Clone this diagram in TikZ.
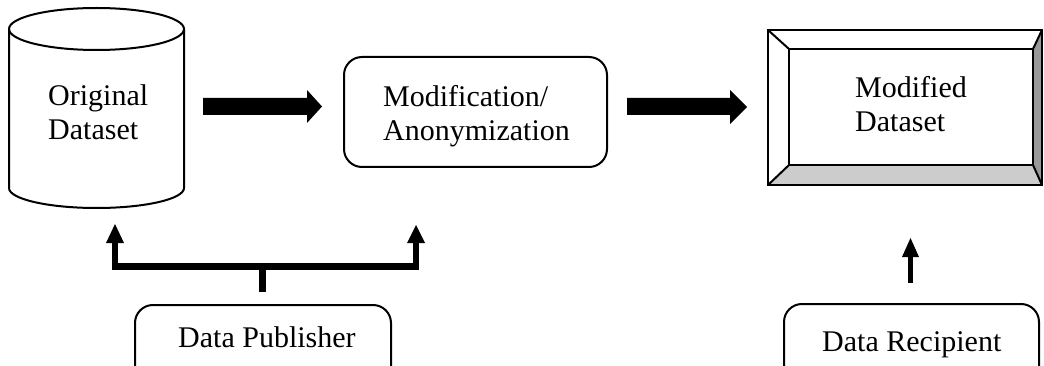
\documentclass[tikz,border=0pt]{standalone}
\usepackage{fontspec}
\setmainfont{Liberation Serif}
\begin{document}
\begin{tikzpicture}[x=1pt,y=-1pt,line join=miter,
  txt/.style={font=\fontsize{30}{34}\selectfont, inner sep=0pt, anchor=base west},
  box/.style={draw, line width=2pt, rounded corners=18pt, inner sep=0pt},
  outl/.style={line width=2pt},
  fat/.style={fill=black},
  bar/.style={line width=6.5pt}]
\useasboundingbox (0,0) rectangle (1044,366);
\clip (0,0) rectangle (1044,366);
% Original Dataset (cylinder)
\draw[outl] (9,29) -- (9,188) arc[start angle=180, end angle=0, x radius=87.5, y radius=20] -- (184,29);
\draw[outl] (96.5,29) ellipse [x radius=87.5, y radius=21];
\node[inner sep=0pt, minimum width=175pt, minimum height=201pt] (orig) at (96.5,107.5) {};
\node[txt] (t1) at (48,106) {Original};
\node[txt] (t2) at (48,140) {Dataset};
% Modification box
\node[box, minimum width=263pt, minimum height=110pt] (mod) at (475.5,112) {};
\node[txt] (t3) at (383,107) {Modification/};
\node[txt] (t4) at (383,141) {Anonymization};
% Modified Dataset bevel box
\fill[white] (768,30) -- (1042,30) -- (1033,49) -- (789,49) -- cycle;
\fill[white] (768,30) -- (789,49) -- (789,165) -- (768,185) -- cycle;
\fill[black!40] (1042,30) -- (1042,185) -- (1033,165) -- (1033,49) -- cycle;
\fill[black!20] (768,185) -- (1042,185) -- (1033,165) -- (789,165) -- cycle;
\draw[outl] (768,30) rectangle (1042,185);
\draw[outl] (789,49) rectangle (1033,165);
\draw[outl] (768,30) -- (789,49) (1042,30) -- (1033,49) (768,185) -- (789,165) (1042,185) -- (1033,165);
\node[inner sep=0pt, minimum width=274pt, minimum height=155pt] (modds) at (905,107.5) {};
\node[txt] (t5) at (855,98) {Modified};
\node[txt] (t6) at (855,132) {Dataset};
% Bottom boxes
\node[box, minimum width=256pt, minimum height=120pt, anchor=north west] (pub) at (134,304) {};
\node[txt] (t7) at (178,347) {Data Publisher};
\node[box, minimum width=255pt, minimum height=120pt, anchor=north west] (rec) at (783,303) {};
\node[txt] (t8) at (822,351) {Data Recipient};
% Fat arrows
\fill[fat] (203,98) -- (307,98) -- (307,90) -- (322,106.5) -- (307,123) -- (307,115) -- (203,115) -- cycle;
\fill[fat] (627,98) -- (730,98) -- (730,90) -- (747,107) -- (730,124) -- (730,115) -- (627,115) -- cycle;
% Publisher connector
\coordinate (stub) at (262.5,292);
\coordinate (join) at (262.5,266.5);
\draw[bar] (stub) -- (join);
\draw[bar] (115,243) -- (115,266.5) -- (416,266.5) -- (416,243);
\fill[fat] (106,243) -- (115,224) -- (124,243) -- cycle;
\fill[fat] (407,243) -- (416,225) -- (425,243) -- cycle;
% Recipient arrow
\draw[line width=5.5pt] (910.5,283) -- (910.5,256);
\fill[fat] (902,257) -- (910.5,238) -- (919,257) -- cycle;
\end{tikzpicture}
\end{document}
